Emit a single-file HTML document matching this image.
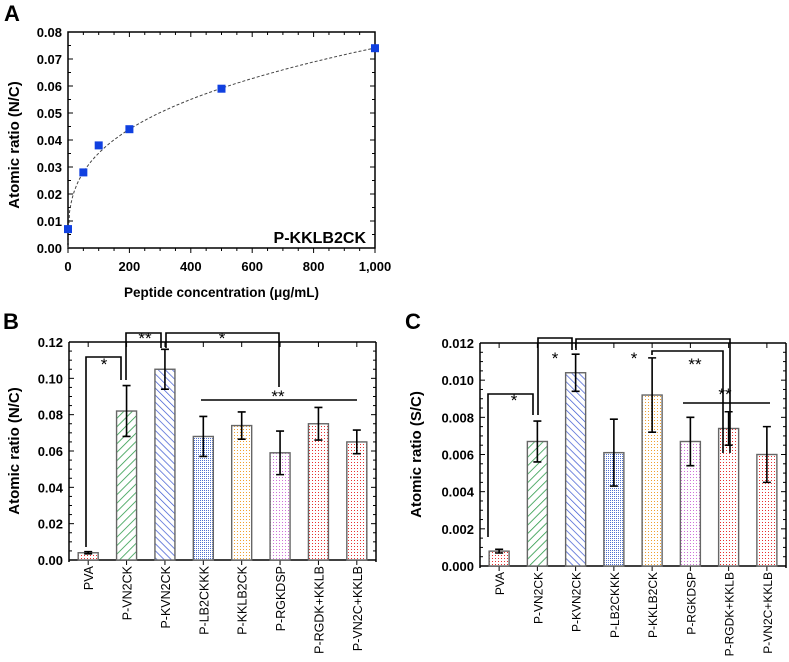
<!DOCTYPE html>
<html><head><meta charset="utf-8"><style>
body{margin:0;background:#fff}
svg{display:block;font-family:"Liberation Sans",Arial,sans-serif}
</style></head><body>
<svg id="fig" width="789" height="662" viewBox="0 0 789 662">
<defs>
<pattern id="pGreen" width="6" height="6" patternUnits="userSpaceOnUse" patternTransform="rotate(45)"><rect width="6" height="6" fill="#fff"/><line x1="0" y1="0" x2="0" y2="6" stroke="#2e9a4a" stroke-width="1.6"/></pattern>
<pattern id="pBlue" width="5" height="5" patternUnits="userSpaceOnUse" patternTransform="rotate(-45)"><rect width="5" height="5" fill="#fff"/><line x1="0" y1="0" x2="0" y2="5" stroke="#3a55d0" stroke-width="1.4"/></pattern>
<pattern id="pDBlue" width="2" height="2" patternUnits="userSpaceOnUse"><rect width="2" height="2" fill="#fff"/><rect width="1" height="1" fill="#5070d0"/></pattern>
<pattern id="pOrange" width="3" height="3" patternUnits="userSpaceOnUse"><rect width="3" height="3" fill="#fff"/><rect width="1" height="1" fill="#f0a030"/></pattern>
<pattern id="pPink" width="3" height="3" patternUnits="userSpaceOnUse"><rect width="3" height="3" fill="#fff"/><rect width="1" height="1" fill="#d070d8"/></pattern>
<pattern id="pRed" width="3" height="3" patternUnits="userSpaceOnUse"><rect width="3" height="3" fill="#fff"/><rect width="1" height="1" fill="#e83030"/></pattern>
</defs>
<g id="gA"></g>
<g id="gB"></g>
<g id="gC"></g>
</svg>
<script>
const NS="http://www.w3.org/2000/svg";
const concX=[0,50,100,200,500,1000];
const ratioA=[0.007,0.028,0.038,0.044,0.059,0.074];
const cats=["PVA","P-VN2CK","P-KVN2CK","P-LB2CKKK","P-KKLB2CK","P-RGKDSP","P-RGDK+KKLB","P-VN2C+KKLB"];
const fills=["url(#pRed)","url(#pGreen)","url(#pBlue)","url(#pDBlue)","url(#pOrange)","url(#pPink)","url(#pRed)","url(#pRed)"];
const valB=[0.004,0.082,0.105,0.068,0.074,0.059,0.075,0.065];
const errB=[0.0006,0.014,0.011,0.011,0.0075,0.012,0.009,0.0065];
const valC=[0.0008,0.0067,0.0104,0.0061,0.0092,0.0067,0.0074,0.0060];
const errC=[0.0001,0.0011,0.0010,0.0018,0.0020,0.0013,0.0009,0.0015];
const ticksA_y=[0,0.01,0.02,0.03,0.04,0.05,0.06,0.07,0.08];
const ticksA_x=[0,200,400,600,800,1000];
const ticksB=[0,0.02,0.04,0.06,0.08,0.10,0.12];
const ticksC=[0,0.002,0.004,0.006,0.008,0.010,0.012];

function el(p,tag,a,txt){const e=document.createElementNS(NS,tag);for(const k in a)e.setAttribute(k,a[k]);if(txt!==undefined)e.textContent=txt;p.appendChild(e);return e;}

// Panel A
(function(){
const g=document.getElementById('gA');
const X0=68,X1=375,Y0=248,Y1=32;
const sx=v=>X0+(v/1000)*(X1-X0), sy=v=>Y0-(v/0.08)*(Y0-Y1);
let t=el(g,'text',{x:4,y:21,'font-size':22,'font-weight':'bold'},'A');

el(g,'rect',{x:X0,y:Y1,width:X1-X0,height:Y0-Y1,fill:'none',stroke:'#000','stroke-width':1.5});
ticksA_y.forEach(v=>{el(g,'line',{x1:X0,x2:X0+5,y1:sy(v),y2:sy(v),stroke:'#000'});el(g,'line',{x1:X1,x2:X1-5,y1:sy(v),y2:sy(v),stroke:'#000'});
 if(v<0.08){el(g,'line',{x1:X0,x2:X0+3,y1:sy(v+0.005),y2:sy(v+0.005),stroke:'#000'});el(g,'line',{x1:X1,x2:X1-3,y1:sy(v+0.005),y2:sy(v+0.005),stroke:'#000'});}
 let l=el(g,'text',{x:X0-6,y:sy(v)+5,'font-size':13,'font-weight':'bold','text-anchor':'end'},v.toFixed(2));});
ticksA_x.forEach(v=>{el(g,'line',{x1:sx(v),x2:sx(v),y1:Y0,y2:Y0+5,stroke:'#000'});el(g,'line',{x1:sx(v),x2:sx(v),y1:Y1,y2:Y1+5,stroke:'#000'});
 if(v<1000)[50,100,150].forEach(d=>{el(g,'line',{x1:sx(v+d),x2:sx(v+d),y1:Y0,y2:Y0+3,stroke:'#000'});el(g,'line',{x1:sx(v+d),x2:sx(v+d),y1:Y1,y2:Y1+3,stroke:'#000'});});
 let l=el(g,'text',{x:sx(v),y:Y0+23,'font-size':13,'font-weight':'bold','text-anchor':'middle'},v===1000?'1,000':String(v));});
let d='';for(let x=0;x<=1000;x+=5){d+=(x?'L':'M')+sx(x).toFixed(1)+','+sy(0.0079*Math.pow(x,0.324)).toFixed(1);}
let fit=el(g,'path',{d:d,fill:'none',stroke:'#444','stroke-width':1,'stroke-dasharray':'3,2'});
concX.forEach((c,i)=>{let r=el(g,'rect',{x:sx(c)-4,y:sy(ratioA[i])-4,width:8,height:8,fill:'#1040e0'});});
t=el(g,'text',{x:366,y:243,'font-size':16,'font-weight':'bold','text-anchor':'end'},'P-KKLB2CK');
t=el(g,'text',{x:(X0+X1)/2,y:297,'font-size':13.5,'font-weight':'bold','text-anchor':'middle'},'Peptide concentration (μg/mL)');
t=el(g,'text',{x:0,y:0,'font-size':15,'font-weight':'bold','text-anchor':'middle',transform:'translate(19,145) rotate(-90)'},'Atomic ratio (N/C)');
})();

function barPanel(g,letter,lx,tx,X0,X1,Y0,Y1,ymax,ticks,dec,vals,errs,title,minor,cfs){
 const n=cats.length,bw=(X1-X0)/n;
 const cx=i=>X0+bw*(i+0.5), sy=v=>Y0-(v/ymax)*(Y0-Y1);
 let t=el(g,'text',{x:lx,y:329,'font-size':22,'font-weight':'bold'},letter);
 el(g,'line',{x1:X0,x2:X0,y1:Y0+2,y2:Y1,stroke:'#000','stroke-width':1.5});
 el(g,'line',{x1:X1,x2:X1,y1:Y0+2,y2:Y1,stroke:'#000','stroke-width':1.5});
 el(g,'line',{x1:X0,x2:X1,y1:Y0,y2:Y0,stroke:'#000','stroke-width':1.5});
 el(g,'line',{x1:X0,x2:X1,y1:Y1,y2:Y1,stroke:'#000','stroke-width':1.5});
 ticks.forEach(v=>{el(g,'line',{x1:X0,x2:X0+5,y1:sy(v),y2:sy(v),stroke:'#000'});el(g,'line',{x1:X1,x2:X1-5,y1:sy(v),y2:sy(v),stroke:'#000'});
  if(v<ymax-1e-9)[1,2,3].forEach(k=>{const m=v+k*minor;el(g,'line',{x1:X0,x2:X0+3,y1:sy(m),y2:sy(m),stroke:'#000'});el(g,'line',{x1:X1,x2:X1-3,y1:sy(m),y2:sy(m),stroke:'#000'});});
  let l=el(g,'text',{x:X0-6,y:sy(v)+5,'font-size':13,'font-weight':'bold','text-anchor':'end'},v.toFixed(dec));});
 vals.forEach((v,i)=>{
  el(g,'line',{x1:cx(i),x2:cx(i),y1:Y0,y2:Y0+5,stroke:'#000'});el(g,'line',{x1:cx(i),x2:cx(i),y1:Y1,y2:Y1+5,stroke:'#000'});
  let r=el(g,'rect',{x:cx(i)-10,y:sy(v),width:20,height:Y0-sy(v),fill:fills[i],stroke:'#666','stroke-width':1.4});
  
  const e=errs[i];
  let eb=el(g,'path',{d:`M${cx(i)},${sy(v-e)}V${sy(v+e)}M${cx(i)-4},${sy(v-e)}h8M${cx(i)-4},${sy(v+e)}h8`,stroke:'#000','stroke-width':1.6,fill:'none'});
  
  let l=el(g,'text',{x:0,y:0,'font-size':cfs,'text-anchor':'end',transform:`translate(${cx(i)+5},${Y0+6}) rotate(-90)`},cats[i]);
  
 });
 t=el(g,'text',{x:0,y:0,'font-size':15,'font-weight':'bold','text-anchor':'middle',transform:`translate(${tx},${(Y0+Y1)/2}) rotate(-90)`},title);
 return {cx,sy};
}
function sig(g,d,sx,sy,label){
 let p=el(g,'path',{d:d,fill:'none',stroke:'#000','stroke-width':1.6});
 let t=el(g,'text',{x:sx,y:sy,'font-size':17,'text-anchor':'middle'},label);
}
// Panel B
(function(){
 const g=document.getElementById('gB');
 barPanel(g,'B',3,19,69,376,560,342,0.12,ticksB,2,valB,errB,'Atomic ratio (N/C)',0.005,12.5);
 sig(g,'M86,547V357H121V380',104,370,'*');
 sig(g,'M126,380V333H161V348',145,344,'**');
 sig(g,'M166,348V333H279V387',222,344,'*');
 sig(g,'M201,400H357',278,402,'**');
})();
// Panel C
(function(){
 const g=document.getElementById('gC');
 barPanel(g,'C',405,421,480,786,566,343,0.012,ticksC,3,valC,errC,'Atomic ratio (S/C)',0.0005,12);
 sig(g,'M488,537V394H533V415',514,406,'*');
 sig(g,'M538,415V338H572V350',555,364,'*');
 sig(g,'M576,350V339H730V453',634,364,'*');
 sig(g,'M652,355V351H723V453',695,370,'**');
 sig(g,'M683,403H770',725,400,'**');
})();
</script>
</body></html>
